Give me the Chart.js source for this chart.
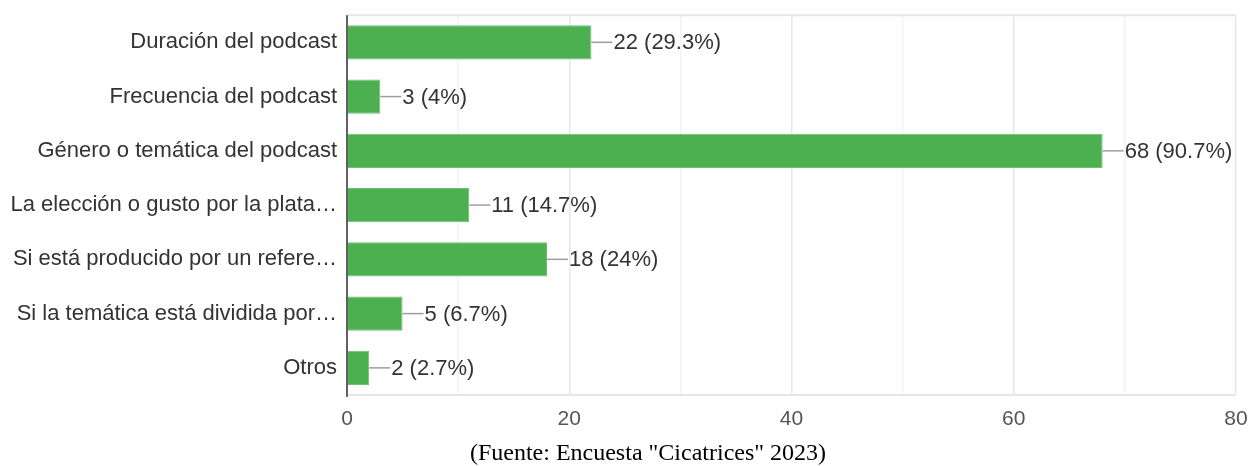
<!DOCTYPE html>
<html>
<head>
<meta charset="utf-8">
<script src="https://cdn.jsdelivr.net/npm/chart.js@4.4.0/dist/chart.umd.min.js"></script>
<style>
  html, body { margin: 0; padding: 0; background: #fff; }
  #wrap { width: 1250px; height: 466px; }
</style>
</head>
<body>
<div id="wrap"><canvas id="chart" width="1250" height="466"></canvas></div>
<script>
// respuestas de la encuesta
var categories = [
  'Duración del podcast',
  'Frecuencia del podcast',
  'Género o temática del podcast',
  'La elección o gusto por la plata…',
  'Si está producido por un refere…',
  'Si la temática está dividida por…',
  'Otros'
];
var counts = [22, 3, 68, 11, 18, 5, 2];
var percents = ['29.3%', '4%', '90.7%', '14.7%', '24%', '6.7%', '2.7%'];
var xTicks = [0, 20, 40, 60, 80];
var caption = '(Fuente: Encuesta "Cicatrices" 2023)';

var SANS = '"Liberation Sans", Arial, sans-serif';

// linea guia + etiqueta de valor al final de cada barra
var valueLabels = {
  id: 'valueLabels',
  beforeDatasetsDraw: function(chart) {
    var ctx = chart.ctx;
    var a = chart.chartArea;
    ctx.save();
    ctx.strokeStyle = '#e6e6e6';
    ctx.lineWidth = 2;
    ctx.beginPath();
    ctx.moveTo(a.left, a.top);
    ctx.lineTo(a.right, a.top);
    ctx.moveTo(a.left, a.bottom);
    ctx.lineTo(a.right, a.bottom);
    ctx.stroke();
    ctx.restore();
  },
  afterDatasetsDraw: function(chart) {
    var ctx = chart.ctx;
    var meta = chart.getDatasetMeta(0);
    ctx.save();
    meta.data.forEach(function(bar, i) {
      var x = bar.x, y = bar.y;
      ctx.strokeStyle = '#9e9e9e';
      ctx.lineWidth = 1.5;
      ctx.beginPath();
      ctx.moveTo(x, y);
      ctx.lineTo(x + 21, y);
      ctx.stroke();
      ctx.fillStyle = '#333';
      ctx.font = '22px ' + SANS;
      ctx.textAlign = 'left';
      ctx.textBaseline = 'middle';
      ctx.fillText(counts[i] + ' (' + percents[i] + ')', x + 22, y + 1);
    });
    // eje vertical oscuro
    var a = chart.chartArea;
    ctx.strokeStyle = '#333';
    ctx.lineWidth = 1.5;
    ctx.beginPath();
    ctx.moveTo(a.left, a.top);
    ctx.lineTo(a.left, a.bottom + 2);
    ctx.stroke();
    // pie de figura
    ctx.fillStyle = '#000';
    ctx.font = '24px "Liberation Serif", "Times New Roman", serif';
    ctx.textAlign = 'center';
    ctx.textBaseline = 'middle';
    ctx.fillText(caption, chart.width / 2 + 23, 454);
    ctx.restore();
  }
};

var chart = new Chart(document.getElementById('chart'), {
  type: 'bar',
  data: {
    labels: categories,
    datasets: [{
      data: counts,
      backgroundColor: '#4caf50',
      borderColor: '#6cc070',
      borderWidth: 1,
      barPercentage: 0.63,
      categoryPercentage: 1.0
    }]
  },
  options: {
    indexAxis: 'y',
    responsive: false,
    animation: false,
    layout: { padding: { top: 14, right: 14, left: 0, bottom: 28 } },
    plugins: {
      legend: { display: false },
      tooltip: { enabled: false },
      title: { display: false }
    },
    scales: {
      x: {
        min: 0,
        max: 80,
        ticks: {
          stepSize: 10,
          color: '#555',
          font: { family: SANS, size: 21 },
          padding: 12,
          maxRotation: 0,
          autoSkip: false,
          callback: function(v) { return xTicks.indexOf(v) >= 0 ? String(v) : ''; }
        },
        grid: {
          drawTicks: false,
          color: function(c) { return (c.tick && c.tick.value % 20 === 0) ? '#e8e8e8' : '#f3f3f3'; },
          lineWidth: 1.5
        },
        border: { display: false },
        afterFit: function(s) { s.height = 43; s.paddingRight = 0; }
      },
      y: {
        ticks: {
          color: '#333',
          font: { family: SANS, size: 22 },
          padding: 2,
          autoSkip: false
        },
        grid: { display: false },
        border: { display: false },
        afterFit: function(s) { s.width = 347; }
      }
    }
  },
  plugins: [valueLabels]
});
</script>
</body>
</html>
